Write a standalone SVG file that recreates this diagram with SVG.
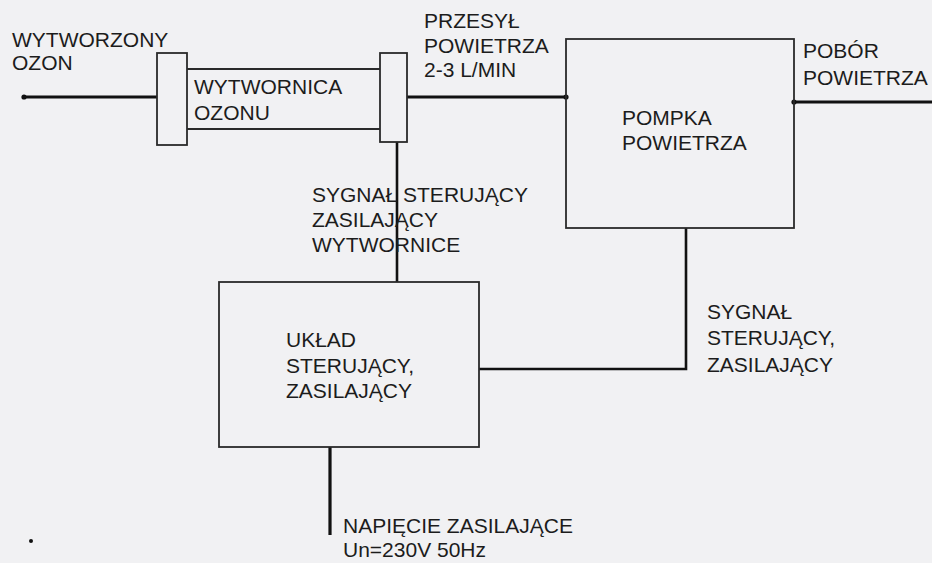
<svg xmlns="http://www.w3.org/2000/svg" width="932" height="563" viewBox="0 0 932 563">
<style>
text{font-family:"Liberation Sans",Arial,sans-serif;font-size:21px;fill:#1c1c1c}
.box{fill:none;stroke:#2a2a2a;stroke-width:1.8}
.thin{fill:none;stroke:#2a2a2a;stroke-width:1.8}
.wire{fill:none;stroke:#111;stroke-width:3.2}
.wire2{fill:none;stroke:#111;stroke-width:2.6}
.dot{fill:#111}
</style>
<rect x="0" y="0" width="932" height="563" fill="#f1f1f3"/>
<g id="connectors">
<line class="wire" x1="24" y1="97" x2="157" y2="97"/>
<circle class="dot" cx="24" cy="97" r="2.6"/>
<line class="wire" x1="407" y1="97" x2="566" y2="97"/>
<circle class="dot" cx="566" cy="97" r="2.6"/>
<line class="wire" x1="794" y1="102" x2="932" y2="102"/>
<circle class="dot" cx="794" cy="102" r="2.6"/>
<polyline class="wire2" points="686,228 686,369 479,369"/>
<line class="wire2" x1="397" y1="142" x2="397" y2="282"/>
<line class="wire" x1="330" y1="447" x2="330" y2="535"/>
<circle class="dot" cx="31" cy="541" r="2"/>
</g>
<g id="wytworzony-ozon">
<text x="12" y="47">WYTWORZONY</text>
<text x="12" y="70">OZON</text>
</g>
<g id="wytwornica">
<rect class="box" x="157" y="53" width="30" height="92"/>
<line class="thin" x1="187" y1="69" x2="380" y2="69"/>
<line class="thin" x1="187" y1="129" x2="380" y2="129"/>
<rect class="box" x="380" y="53" width="27" height="89"/>
<text x="194" y="94">WYTWORNICA</text>
<text x="194" y="120">OZONU</text>
</g>
<g id="przesyl">
<text x="424" y="28">PRZESYŁ</text>
<text x="424" y="53">POWIETRZA</text>
<text x="424" y="77">2-3 L/MIN</text>
</g>
<g id="pompka">
<rect class="box" x="566" y="39" width="228" height="189"/>
<text x="622" y="125">POMPKA</text>
<text x="622" y="150">POWIETRZA</text>
</g>
<g id="pobor">
<text x="803" y="58">POBÓR</text>
<text x="803" y="85">POWIETRZA</text>
</g>
<g id="sygnal-wytwornica">
<text x="312" y="202">SYGNAŁ STERUJĄCY</text>
<text x="312" y="227">ZASILAJĄCY</text>
<text x="312" y="252">WYTWORNICE</text>
</g>
<g id="uklad">
<rect class="box" x="219" y="282" width="260" height="165"/>
<text x="286" y="347">UKŁAD</text>
<text x="286" y="373">STERUJĄCY,</text>
<text x="286" y="398">ZASILAJĄCY</text>
</g>
<g id="sygnal-pompka">
<text x="707" y="319">SYGNAŁ</text>
<text x="707" y="345">STERUJĄCY,</text>
<text x="707" y="372">ZASILAJĄCY</text>
</g>
<g id="napiecie">
<text x="343" y="533">NAPIĘCIE ZASILAJĄCE</text>
<text x="343" y="557">Un=230V 50Hz</text>
</g>
</svg>
